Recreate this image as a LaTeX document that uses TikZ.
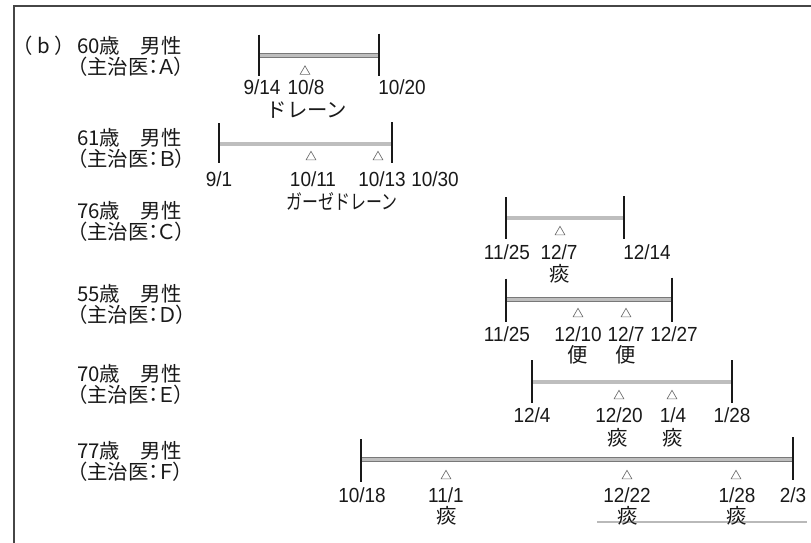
\documentclass[tikz,border=0pt]{standalone}
\usepackage{fontspec}
\setmainfont{Liberation Sans}
\newfontfamily\datefont[FakeStretch=0.93]{Liberation Sans}
\newfontfamily\jpfont{Noto Sans CJK JP}
\newfontfamily\jppalt[RawFeature=+palt]{Noto Sans CJK JP}
\usetikzlibrary{calc,shapes.geometric}
\definecolor{chartink}{RGB}{25,25,25}
\definecolor{chartbar}{RGB}{190,190,190}
\definecolor{chartbaredge}{RGB}{120,120,120}
\definecolor{chartmark}{RGB}{110,110,110}
\definecolor{chartframe}{RGB}{70,70,70}
\tikzset{
  patient/.style={
    font=\jppalt\fontsize{15.3}{15.8}\selectfont,
    align=left,
    anchor=west,
    inner sep=0pt,
    text=chartink,
  },
  date label/.style={
    font=\datefont\fontsize{15.3}{16}\selectfont,
    anchor=base,
    inner sep=0pt,
    text depth=0pt,
    text=chartink,
  },
  note label/.style={
    font=\jpfont\fontsize{15.3}{16}\selectfont,
    inner sep=0pt,
    text=chartink,
  },
  stay bar/.style={
    draw=chartbaredge,
    double=chartbar,
    double distance=2.6pt,
    line width=0.5pt,
  },
  stay tick/.style={
    draw=chartink,
    line width=1.1pt,
  },
  event mark/.style={
    regular polygon,
    regular polygon sides=3,
    minimum size=8.5pt,
    inner sep=0pt,
    draw=chartmark,
    line width=0.5pt,
  },
}

\begin{document}
\begin{tikzpicture}[x=0.75pt,y=-0.75pt]
  \useasboundingbox (0,0) rectangle (811,543);
  \draw[chartframe, line width=0.8pt] (13,6) -- (811,6);
  \draw[chartframe, line width=0.8pt] (14,6) -- (14,543);
  \draw[gray!55, line width=0.8pt] (597,522) -- (807,522);

  \node[note label] (tag) at (44,46) {（ b ）};

  % patient A
  \node[patient] (pa) at (77,56.5) {60歳　男性\\（主治医：Ａ）};
  \coordinate (a0) at (259,55.5);
  \coordinate (a1) at (379,55.5);
  \draw[stay bar] (a0) -- (a1);
  \draw[stay tick] ($(a0)+(0,-21)$) -- ($(a0)+(0,20)$);
  \draw[stay tick] ($(a1)+(0,-22)$) -- ($(a1)+(0,20)$);
  \node[event mark] (am1) at (305,71.5) {};
  \node[date label] (ad0) at (262,94) {9/14};
  \node[date label] (ad1) at (306,94) {10/8};
  \node[date label] (ad2) at (402,94) {10/20};
  \node[note label] (an1) at (307,110) {ドレーン};

  % patient B
  \node[patient] (pb) at (77,148.5) {61歳　男性\\（主治医：Ｂ）};
  \coordinate (b0) at (219,144);
  \coordinate (b1) at (392,144);
  \draw[stay bar] (b0) -- (b1);
  \draw[stay tick] ($(b0)+(0,-21)$) -- ($(b0)+(0,19)$);
  \draw[stay tick] ($(b1)+(0,-22)$) -- ($(b1)+(0,19)$);
  \node[event mark] (bm1) at (311,157) {};
  \node[event mark] (bm2) at (378,157) {};
  \node[date label] (bd0) at (219,186) {9/1};
  \node[date label] (bd1) at (313,186) {10/11};
  \node[date label] (bd2) at (382,186) {10/13};
  \node[date label] (bd3) at (435,186) {10/30};
  \node[note label] (bn1) at (342,201) {\scalebox{0.78}[1]{ガーゼドレーン}};

  % patient C
  \node[patient] (pc) at (77,221.5) {76歳　男性\\（主治医：Ｃ）};
  \coordinate (c0) at (506,218);
  \coordinate (c1) at (624,218);
  \draw[stay bar] (c0) -- (c1);
  \draw[stay tick] ($(c0)+(0,-21)$) -- ($(c0)+(0,21)$);
  \draw[stay tick] ($(c1)+(0,-22)$) -- ($(c1)+(0,21)$);
  \node[event mark] (cm1) at (560,232) {};
  \node[date label] (cd0) at (507,259) {11/25};
  \node[date label] (cd1) at (559,259) {12/7};
  \node[date label] (cd2) at (647,259) {12/14};
  \node[note label] (cn1) at (560,273.5) {痰};

  % patient D
  \node[patient] (pd) at (77,304.5) {55歳　男性\\（主治医：Ｄ）};
  \coordinate (d0) at (506,299.5);
  \coordinate (d1) at (672,299.5);
  \draw[stay bar] (d0) -- (d1);
  \draw[stay tick] ($(d0)+(0,-21)$) -- ($(d0)+(0,22)$);
  \draw[stay tick] ($(d1)+(0,-22)$) -- ($(d1)+(0,22)$);
  \node[event mark] (dm1) at (578,314) {};
  \node[event mark] (dm2) at (626,314) {};
  \node[date label] (dd0) at (507,341) {11/25};
  \node[date label] (dd1) at (578,341) {12/10};
  \node[date label] (dd2) at (626,341) {12/7};
  \node[date label] (dd3) at (674,341) {12/27};
  \node[note label] (dn1) at (578,355) {便};
  \node[note label] (dn2) at (626,355) {便};

  % patient E
  \node[patient] (pe) at (77,384) {70歳　男性\\（主治医：Ｅ）};
  \coordinate (e0) at (532,382);
  \coordinate (e1) at (732,382);
  \draw[stay bar] (e0) -- (e1);
  \draw[stay tick] ($(e0)+(0,-22)$) -- ($(e0)+(0,21)$);
  \draw[stay tick] ($(e1)+(0,-22)$) -- ($(e1)+(0,21)$);
  \node[event mark] (em1) at (619,396) {};
  \node[event mark] (em2) at (672,396) {};
  \node[date label] (ed0) at (532,422) {12/4};
  \node[date label] (ed1) at (619,422) {12/20};
  \node[date label] (ed2) at (673,422) {1/4};
  \node[date label] (ed3) at (732,422) {1/28};
  \node[note label] (en1) at (618,437.5) {痰};
  \node[note label] (en2) at (673,437.5) {痰};

  % patient F
  \node[patient] (pf) at (77,461.5) {77歳　男性\\（主治医：Ｆ）};
  \coordinate (f0) at (361,459.5);
  \coordinate (f1) at (793,459.5);
  \draw[stay bar] (f0) -- (f1);
  \draw[stay tick] ($(f0)+(0,-20.5)$) -- ($(f0)+(0,22.5)$);
  \draw[stay tick] ($(f1)+(0,-22.5)$) -- ($(f1)+(0,20.5)$);
  \node[event mark] (fm1) at (446,476) {};
  \node[event mark] (fm2) at (627,476) {};
  \node[event mark] (fm3) at (736,476) {};
  \node[date label] (fd0) at (362,502) {10/18};
  \node[date label] (fd1) at (446,502) {11/1};
  \node[date label] (fd2) at (627,502) {12/22};
  \node[date label] (fd3) at (737,502) {1/28};
  \node[date label] (fd4) at (793,502) {2/3};
  \node[note label] (fn1) at (447,516) {痰};
  \node[note label] (fn2) at (628,516) {痰};
  \node[note label] (fn3) at (737,516) {痰};
\end{tikzpicture}
\end{document}
